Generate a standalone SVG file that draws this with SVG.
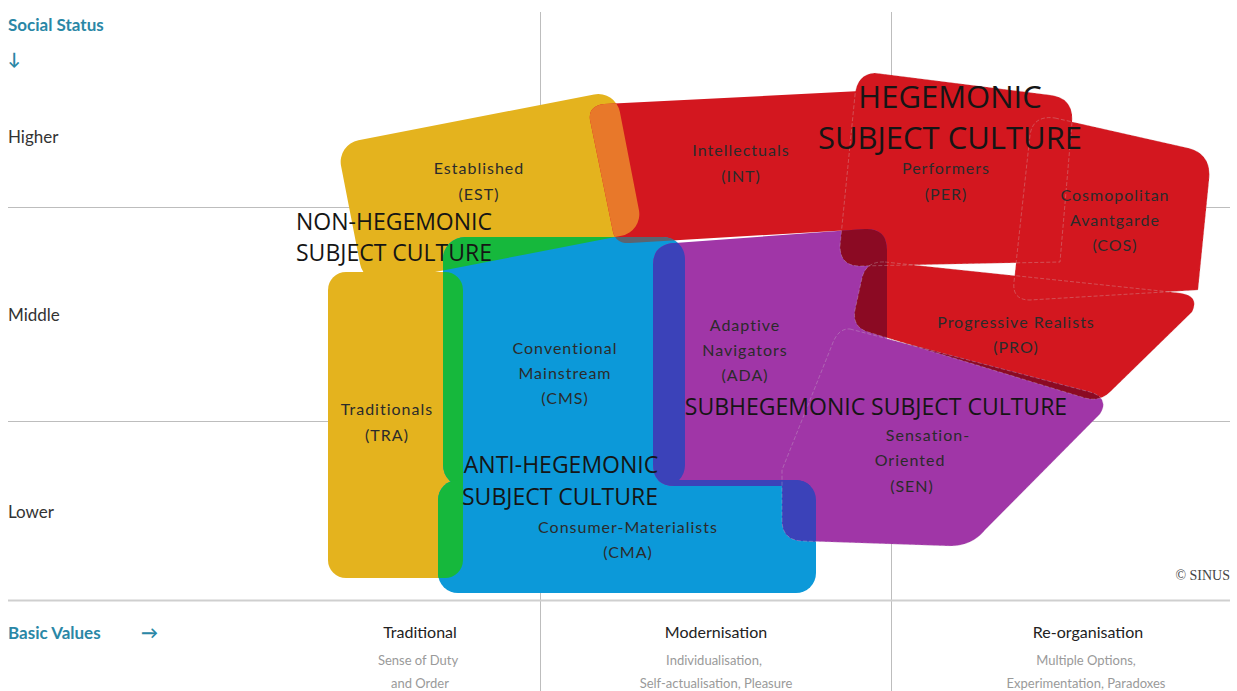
<svg xmlns="http://www.w3.org/2000/svg" xmlns:xlink="http://www.w3.org/1999/xlink" width="1237" height="691" viewBox="0 0 1237 691">
<style>
.grid{stroke:#bdbdbd;stroke-width:1;fill:none}
.lbl{font-family:Lato,'Liberation Sans',sans-serif;font-size:16px;fill:#2b2b2b;text-anchor:middle;letter-spacing:1px}
.cult{font-family:'Open Sans','Noto Sans',sans-serif;fill:#151515;text-anchor:middle}
.axis{font-family:Lato,'Liberation Sans',sans-serif;font-size:17px;fill:#333}
.teal{font-family:Lato,'Liberation Sans',sans-serif;font-size:17px;font-weight:bold;fill:#2a87a6}
.colh{font-family:Lato,'Liberation Sans',sans-serif;font-size:16px;fill:#222;text-anchor:middle}
.cols{font-family:Lato,'Liberation Sans',sans-serif;font-size:13px;fill:#9a9a9a;text-anchor:middle}
.faint{fill:none;stroke:#cfcfcf;stroke-opacity:0.3;stroke-width:1;stroke-dasharray:4 2}
</style>
<defs>
  <rect id="s-est" x="-142" y="-72" width="284" height="144" rx="22" transform="translate(490,188) rotate(-11)"/>
  <rect id="s-tra" x="328" y="272" width="135" height="306" rx="18"/>
  <path id="s-int" d="M604,104 L880,90 L885,228 L630,243 Q616,244 613,232 L590,120 Q588,106 604,104 Z"/>
  <path id="s-per" d="M875,73 L1050,95 Q1074,98 1072,122 L1060,262 L860,266 Q840,266 840,246 L855,95 Q857,74 875,73 Z"/>
  <path id="s-cos" d="M1055,118 L1188,148 Q1212,154 1209,180 L1198,290 L1030,300 Q1012,300 1014,282 L1030,135 Q1033,115 1055,118 Z"/>
  <path id="s-pro" d="M885,262 L1180,293 Q1200,296 1192,312 L1110,392 Q1100,402 1085,398 L868,332 Q852,327 855,310 L862,278 Q866,261 885,262 Z"/>
  <rect id="s-cms" x="443" y="237" width="242" height="250" rx="22"/>
  <rect id="s-cma" x="438" y="480" width="378" height="113" rx="20"/>
  <path id="s-ada" d="M675,243 L865,229 Q887,228 887,250 L887,486 L675,486 Q653,486 653,464 L653,265 Q653,244 675,243 Z"/>
  <path id="s-sen" d="M850,329 L1090,392 Q1110,398 1100,414 L985,530 Q972,546 950,546 L802,541 Q782,540 782,520 L782,470 L832,345 Q838,328 850,329 Z"/>
  <clipPath id="c-est"><use xlink:href="#s-est"/></clipPath>
  <clipPath id="c-yellow"><use xlink:href="#s-est"/><use xlink:href="#s-tra"/></clipPath>
  <clipPath id="c-red"><use xlink:href="#s-int"/><use xlink:href="#s-per"/><use xlink:href="#s-cos"/><use xlink:href="#s-pro"/></clipPath>
  <clipPath id="c-blue"><use xlink:href="#s-cms"/><use xlink:href="#s-cma"/></clipPath>
  <clipPath id="c-purple"><use xlink:href="#s-ada"/><use xlink:href="#s-sen"/></clipPath>
</defs>

<g id="grid">
  <line class="grid" x1="8" y1="207.5" x2="1230" y2="207.5"/>
  <line class="grid" x1="8" y1="421.5" x2="1230" y2="421.5"/>
  <line class="grid" x1="540.5" y1="12" x2="540.5" y2="691"/>
  <line class="grid" x1="891.5" y1="12" x2="891.5" y2="691"/>
  <line x1="8" y1="600.5" x2="1230" y2="600.5" stroke="#cfcfcf" stroke-width="2"/>
</g>

<g id="shapes">
  <g id="yellow" fill="#e4b31e">
    <use xlink:href="#s-est"/>
    <use xlink:href="#s-tra"/>
  </g>
  <g id="red" fill="#d3171f">
    <use xlink:href="#s-int"/>
    <use xlink:href="#s-per"/>
    <use xlink:href="#s-cos"/>
    <use xlink:href="#s-pro"/>
  </g>
  <g id="orange" fill="#e8782a" clip-path="url(#c-est)">
    <use xlink:href="#s-int"/>
  </g>
  <g id="blue" fill="#0c99d9">
    <use xlink:href="#s-cms"/>
    <use xlink:href="#s-cma"/>
  </g>
  <g id="green" fill="#16b83c" clip-path="url(#c-yellow)">
    <use xlink:href="#s-cms"/>
    <use xlink:href="#s-cma"/>
  </g>
  <g id="gray" fill="#5b6470" clip-path="url(#c-red)">
    <use xlink:href="#s-cms"/>
  </g>
  <g id="purple" fill="#a036a7">
    <use xlink:href="#s-ada"/>
    <use xlink:href="#s-sen"/>
  </g>
  <g id="indigo" fill="#3b42b9" clip-path="url(#c-blue)">
    <use xlink:href="#s-ada"/>
    <use xlink:href="#s-sen"/>
  </g>
  <g id="darkred" fill="#8b0a23" clip-path="url(#c-purple)">
    <use xlink:href="#s-int"/>
    <use xlink:href="#s-per"/>
    <use xlink:href="#s-pro"/>
  </g>
  <g id="outlines" class="faint">
    <use xlink:href="#s-per"/>
    <use xlink:href="#s-cos"/>
    <use xlink:href="#s-pro"/>
    <use xlink:href="#s-sen"/>
  </g>
</g>

<g id="node-est"><text class="lbl" x="479" y="174">Established</text><text class="lbl" x="479" y="200">(EST)</text></g>
<g id="node-int"><text class="lbl" x="741" y="156">Intellectuals</text><text class="lbl" x="741" y="182">(INT)</text></g>
<g id="node-per"><text class="lbl" x="946" y="174">Performers</text><text class="lbl" x="946" y="200">(PER)</text></g>
<g id="node-cos"><text class="lbl" x="1115" y="201">Cosmopolitan</text><text class="lbl" x="1115" y="226">Avantgarde</text><text class="lbl" x="1115" y="251">(COS)</text></g>
<g id="node-pro"><text class="lbl" x="1016" y="328">Progressive Realists</text><text class="lbl" x="1016" y="353">(PRO)</text></g>
<g id="node-ada"><text class="lbl" x="745" y="331">Adaptive</text><text class="lbl" x="745" y="356">Navigators</text><text class="lbl" x="745" y="381">(ADA)</text></g>
<g id="node-cms"><text class="lbl" x="565" y="354">Conventional</text><text class="lbl" x="565" y="379">Mainstream</text><text class="lbl" x="565" y="404">(CMS)</text></g>
<g id="node-tra"><text class="lbl" x="387" y="415">Traditionals</text><text class="lbl" x="387" y="441">(TRA)</text></g>
<g id="node-sen"><text class="lbl" x="928" y="441">Sensation-</text><text class="lbl" x="910" y="466">Oriented</text><text class="lbl" x="912" y="492">(SEN)</text></g>
<g id="node-cma"><text class="lbl" x="628" y="533">Consumer-Materialists</text><text class="lbl" x="628" y="558">(CMA)</text></g>

<g id="cultures">
  <text class="cult" x="950" y="108" font-size="31">HEGEMONIC</text>
  <text class="cult" x="950" y="149" font-size="31">SUBJECT CULTURE</text>
  <text class="cult" x="394" y="230" font-size="23">NON-HEGEMONIC</text>
  <text class="cult" x="394" y="261" font-size="23">SUBJECT CULTURE</text>
  <text class="cult" x="561" y="473" font-size="23">ANTI-HEGEMONIC</text>
  <text class="cult" x="560" y="505" font-size="23">SUBJECT CULTURE</text>
  <text class="cult" x="876" y="415" font-size="23">SUBHEGEMONIC SUBJECT CULTURE</text>
</g>

<g id="axes">
  <text class="teal" x="8" y="31">Social Status</text>
  <text class="teal" x="8" y="65" font-weight="normal">↓</text>
  <text class="axis" x="8" y="143">Higher</text>
  <text class="axis" x="8" y="321">Middle</text>
  <text class="axis" x="8" y="518">Lower</text>
  <text class="teal" x="8" y="639">Basic Values</text>
  <text class="teal" x="141" y="639" font-weight="normal">→</text>
  <text class="colh" x="420" y="638">Traditional</text>
  <text class="cols" x="418" y="665">Sense of Duty</text>
  <text class="cols" x="420" y="688">and Order</text>
  <text class="colh" x="716" y="638">Modernisation</text>
  <text class="cols" x="714" y="665">Individualisation,</text>
  <text class="cols" x="716" y="688">Self-actualisation, Pleasure</text>
  <text class="colh" x="1088" y="638">Re-organisation</text>
  <text class="cols" x="1086" y="665">Multiple Options,</text>
  <text class="cols" x="1086" y="688">Experimentation, Paradoxes</text>
  <text x="1230" y="580" font-family="'Liberation Serif',serif" font-size="14" fill="#444" text-anchor="end">© SINUS</text>
</g>
</svg>
